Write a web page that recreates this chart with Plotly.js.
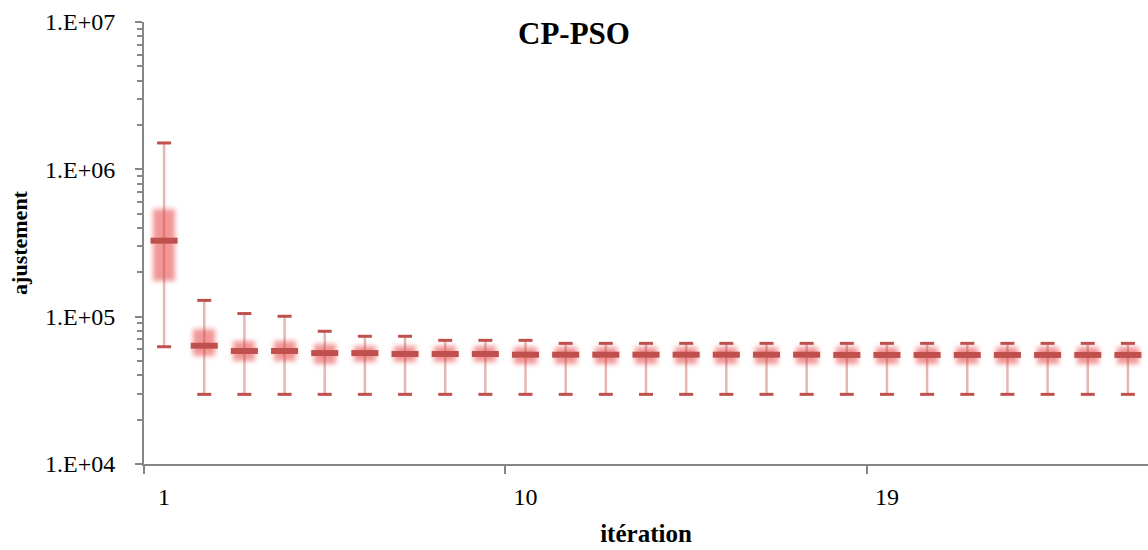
<!DOCTYPE html>
<html>
<head>
<meta charset="utf-8">
<script src="https://cdn.plot.ly/plotly-3.0.1.min.js"></script>
<style>
  html, body { margin: 0; padding: 0; background: #ffffff; }
  #chart { width: 1148px; height: 550px; }
</style>
</head>
<body>
<div id="chart"></div>
<script>
// Iterations (categories)
const iterations = [1,2,3,4,5,6,7,8,9,10,11,12,13,14,15,16,17,18,19,20,21,22,23,24,25];
// Maximum fitness per iteration (upper whisker)
const maxVals = [1.51e6, 1.29e5, 1.05e5, 1.006e5, 7.96e4, 7.36e4, 7.36e4, 6.91e4, 6.91e4, 6.91e4,
                 6.59e4, 6.59e4, 6.59e4, 6.59e4, 6.59e4, 6.59e4, 6.59e4, 6.59e4, 6.59e4, 6.59e4,
                 6.59e4, 6.59e4, 6.59e4, 6.59e4, 6.59e4];
// Minimum fitness per iteration (lower whisker)
const minVals = [6.25e4, 2.97e4, 2.97e4, 2.97e4, 2.97e4, 2.97e4, 2.97e4, 2.97e4, 2.97e4, 2.97e4,
                 2.97e4, 2.97e4, 2.97e4, 2.97e4, 2.97e4, 2.97e4, 2.97e4, 2.97e4, 2.97e4, 2.97e4,
                 2.97e4, 2.97e4, 2.97e4, 2.97e4, 2.97e4];
// Median fitness per iteration
const medianVals = [3.28e5, 6.35e4, 5.85e4, 5.85e4, 5.66e4, 5.66e4, 5.58e4, 5.58e4, 5.58e4, 5.52e4,
                    5.52e4, 5.52e4, 5.52e4, 5.52e4, 5.52e4, 5.52e4, 5.52e4, 5.50e4, 5.50e4, 5.50e4,
                    5.50e4, 5.50e4, 5.50e4, 5.50e4, 5.50e4];
// Box (quartiles) lower / upper bounds
const q1Vals = [1.75e5, 5.4e4, 5.0e4, 5.0e4, 4.77e4, 4.92e4, 4.92e4, 4.92e4, 4.92e4, 4.75e4,
                4.75e4, 4.75e4, 4.75e4, 4.75e4, 4.75e4, 4.75e4, 4.75e4, 4.75e4, 4.75e4, 4.75e4,
                4.75e4, 4.75e4, 4.75e4, 4.75e4, 4.75e4];
const q3Vals = [5.4e5, 8.2e4, 6.84e4, 6.84e4, 6.52e4, 6.32e4, 6.32e4, 6.32e4, 6.32e4, 6.22e4,
                6.22e4, 6.22e4, 6.22e4, 6.22e4, 6.22e4, 6.22e4, 6.22e4, 6.22e4, 6.22e4, 6.22e4,
                6.22e4, 6.22e4, 6.22e4, 6.22e4, 6.22e4];
// Tick labels
const xTickVals = [1, 10, 19];
const xTickText = ['1', '10', '19'];
const yTickVals = [1e4, 1e5, 1e6, 1e7];
const yTickText = ['1.E+04', '1.E+05', '1.E+06', '1.E+07'];

const RED = '#C0504D';
const GRAY = '#868686';

const yMinor = [];
for (let e = 4; e < 7; e++) for (let d = 2; d <= 9; d++) yMinor.push(d * Math.pow(10, e));

const boxTrace = {
  type: 'bar', x: iterations, base: q1Vals,
  y: q3Vals.map((v, i) => v - q1Vals[i]),
  width: 0.55,
  marker: { color: 'rgb(242,150,150)', line: { width: 0 } },
  hoverinfo: 'skip', showlegend: false
};
const whiskerTrace = {
  type: 'scatter', mode: 'markers', x: iterations, y: medianVals,
  marker: { size: 1, color: 'rgba(0,0,0,0)' },
  error_y: {
    type: 'data', symmetric: false,
    array: maxVals.map((v, i) => v - medianVals[i]),
    arrayminus: medianVals.map((v, i) => v - minVals[i]),
    color: 'rgba(192,80,77,0.42)', thickness: 2.5, width: 0
  },
  hoverinfo: 'skip', showlegend: false
};
// line-ew marker length is 1.4 x size
const capTop = {
  type: 'scatter', mode: 'markers', x: iterations, y: maxVals,
  marker: { symbol: 'line-ew', size: 10, line: { width: 3, color: RED } },
  showlegend: false
};
const capBot = {
  type: 'scatter', mode: 'markers', x: iterations, y: minVals,
  marker: { symbol: 'line-ew', size: 10, line: { width: 3, color: RED } },
  showlegend: false
};
const medTrace = {
  type: 'scatter', mode: 'markers', x: iterations, y: medianVals,
  marker: { symbol: 'line-ew', size: 19.3, line: { width: 6, color: RED } },
  showlegend: false
};

const layout = {
  width: 1148, height: 550,
  margin: { l: 144, r: 0, t: 22, b: 86 },
  paper_bgcolor: '#ffffff', plot_bgcolor: '#ffffff',
  font: { family: '"Liberation Serif", "Times New Roman", serif', color: '#000000' },
  showlegend: false,
  bargap: 0,
  title: {
    text: '<b>CP-PSO</b>', font: { size: 31, color: '#000000' },
    xref: 'container', x: 0.5, xanchor: 'center',
    yref: 'container', y: 1 - 33 / 550, yanchor: 'middle'
  },
  xaxis: {
    type: 'linear', range: [0.5, 25.5],
    showline: true, linecolor: GRAY, linewidth: 2,
    showgrid: false, zeroline: false,
    ticks: '', tickmode: 'array', tickvals: xTickVals, ticktext: xTickText,
    tickfont: { size: 24, color: '#000000' },
    ticklabelstandoff: 10,
    minor: { tickmode: 'array', tickvals: [0.5, 9.5, 18.5], ticks: 'outside', ticklen: 8, tickwidth: 2, tickcolor: GRAY, showgrid: false },
    title: { text: '<b>itération</b>', font: { size: 25, color: '#000000' }, standoff: 16 },
    fixedrange: true
  },
  yaxis: {
    type: 'log', range: [4, 7],
    showline: true, linecolor: GRAY, linewidth: 2,
    showgrid: false, zeroline: false,
    ticks: 'outside', ticklen: 7, tickwidth: 2, tickcolor: GRAY,
    tickmode: 'array', tickvals: yTickVals, ticktext: yTickText,
    tickfont: { size: 24, color: '#000000' },
    ticklabelstandoff: 15,
    minor: { tickmode: 'array', tickvals: yMinor, ticks: 'outside', ticklen: 5, tickwidth: 2, tickcolor: GRAY, showgrid: false },
    title: { text: '<b>ajustement</b>', font: { size: 22, color: '#000000' }, standoff: 11 },
    fixedrange: true
  }
};

Plotly.newPlot('chart', [boxTrace, whiskerTrace, capTop, capBot, medTrace], layout,
  { displayModeBar: false, staticPlot: true }).then(function (gd) {
  const svg = gd.querySelector('svg.main-svg');
  const NS = 'http://www.w3.org/2000/svg';
  const defs = document.createElementNS(NS, 'defs');
  const filter = document.createElementNS(NS, 'filter');
  filter.setAttribute('id', 'boxglow');
  filter.setAttribute('filterUnits', 'userSpaceOnUse');
  filter.setAttribute('x', '-100'); filter.setAttribute('y', '-100');
  filter.setAttribute('width', '1400'); filter.setAttribute('height', '800');
  filter.setAttribute('color-interpolation-filters', 'sRGB');
  const blur = document.createElementNS(NS, 'feGaussianBlur');
  blur.setAttribute('stdDeviation', '2.8');
  filter.appendChild(blur);
  defs.appendChild(filter);
  svg.insertBefore(defs, svg.firstChild);
  gd.querySelectorAll('.barlayer .trace').forEach(function (g) {
    g.setAttribute('filter', 'url(#boxglow)');
  });
});
</script>
</body>
</html>
